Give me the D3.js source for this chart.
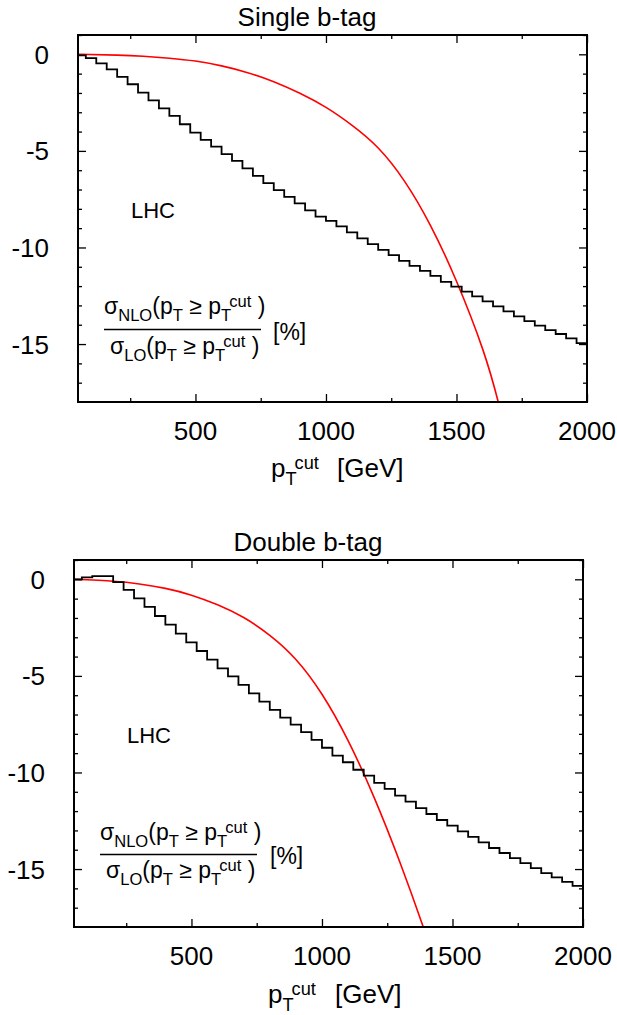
<!DOCTYPE html>
<html>
<head>
<meta charset="utf-8">
<script src="https://cdn.jsdelivr.net/npm/d3@7"></script>
<style>
  html, body { margin: 0; padding: 0; background: #fff; }
  svg { display: block; font-family: "Liberation Sans", Arial, Helvetica, sans-serif; }
</style>
</head>
<body>
<svg id="chart" width="617" height="1015"></svg>
<script>
// ---------------- DATA ----------------
const binEdges = [50, 80, 120, 160, 200, 240, 280, 320, 360, 400, 440, 480, 520, 560, 600, 640, 680, 720, 760, 800,
  840, 880, 920, 960, 1000, 1040, 1080, 1120, 1160, 1200, 1240, 1280, 1320, 1360, 1400, 1440, 1480, 1520, 1560, 1600,
  1640, 1680, 1720, 1760, 1800, 1840, 1880, 1920, 1960, 2000];

const singleStep = [-0.05, -0.2, -0.47, -0.78, -1.17, -1.55, -1.98, -2.38, -2.8, -3.19, -3.62, -4.05, -4.43, -4.78,
  -5.17, -5.52, -5.9, -6.29, -6.67, -7.03, -7.38, -7.72, -8.08, -8.4, -8.62, -8.91, -9.22, -9.53, -9.83, -10.12,
  -10.4, -10.69, -10.95, -11.21, -11.47, -11.78, -12.03, -12.29, -12.53, -12.79, -13.05, -13.31, -13.57, -13.81,
  -14.05, -14.28, -14.48, -14.71, -14.95];

const doubleStep = [0.0, 0.1, 0.17, 0.17, -0.15, -0.55, -0.99, -1.43, -1.9, -2.35, -2.81, -3.26, -3.71, -4.16,
  -4.61, -5.03, -5.47, -5.9, -6.33, -6.76, -7.16, -7.52, -7.91, -8.31, -8.72, -9.13, -9.47, -9.86, -10.16, -10.54,
  -10.85, -11.2, -11.51, -11.85, -12.15, -12.46, -12.75, -13.05, -13.33, -13.62, -13.91, -14.17, -14.43, -14.69,
  -14.95, -15.21, -15.43, -15.66, -15.87];

const singleCurveX = [50, 200, 300, 400, 500, 600, 700, 800, 900, 1000, 1100, 1200, 1300, 1400, 1500, 1600, 1660, 1700];
const singleCurveY = [0, -0.04, -0.1, -0.2, -0.35, -0.6, -0.95, -1.42, -2.02, -2.75, -3.68, -4.85, -6.55, -8.85, -11.75, -15.25, -18.0, -20.2];

const doubleCurveX = [50, 200, 300, 400, 500, 600, 700, 800, 900, 1000, 1100, 1200, 1300, 1388, 1430];
const doubleCurveY = [0, -0.1, -0.24, -0.47, -0.82, -1.32, -1.98, -2.9, -4.15, -5.95, -8.35, -11.3, -14.7, -18.0, -19.7];

const xMajorTicks = [500, 1000, 1500, 2000];
const xMinorTicks = [250, 750, 1250, 1750];
const yMajorTicks = [0, -5, -10, -15];
const yMinorTicks = [1, -1, -2, -3, -4, -6, -7, -8, -9, -11, -12, -13, -14, -16, -17];

const titles = ["Single b-tag", "Double b-tag"];
const annotation = "LHC";

// ---------------- LAYOUT ----------------
const svg = d3.select("#chart");
const panels = [
  { title: titles[0], step: singleStep, cx: singleCurveX, cy: singleCurveY,
    left: 78, right: 587, top: 35, bottom: 402, titleX: 307, titleY: 26,
    lhc: [131, 218], frac: { nx: 104, ny: 314, barY: 329.5, barX1: 104, barX2: 261, dx: 110, dy: 354, px: 273, py: 340 },
    xlab: { px: 271, gx: 337, y: 477 } },
  { title: titles[1], step: doubleStep, cx: doubleCurveX, cy: doubleCurveY,
    left: 74, right: 583, top: 560, bottom: 927, titleX: 308, titleY: 551,
    lhc: [127, 743], frac: { nx: 100, ny: 840, barY: 854.5, barX1: 100, barX2: 257, dx: 106, dy: 878, px: 270, py: 864 },
    xlab: { px: 268, gx: 335, y: 1003 } }
];

function richText(g, x, y, parts, size, scale) {
  const t = g.append("text").attr("x", x).attr("y", y).attr("font-size", size)
    .attr("fill", "#000").style("white-space", "pre");
  let shift = 0;
  parts.forEach(p => {
    const ts = t.append("tspan").text(p.t);
    let target = 0, fs = size;
    if (p.sub) { target = size * 0.32; fs = size * scale; }
    if (p.sup) { target = -size * 0.32; fs = size * scale; }
    ts.attr("dy", target - shift).attr("font-size", fs);
    shift = target;
  });
  return t;
}

panels.forEach((P, idx) => {
  const g = svg.append("g");
  const x = d3.scaleLinear().domain([50, 2000]).range([P.left, P.right]);
  const y = d3.scaleLinear().domain([-18, 1]).range([P.bottom, P.top]);

  const clipId = "clip" + idx;
  svg.append("defs").append("clipPath").attr("id", clipId)
    .append("rect").attr("x", P.left).attr("y", P.top)
    .attr("width", P.right - P.left).attr("height", P.bottom - P.top);

  // Title
  g.append("text").attr("x", P.titleX).attr("y", P.titleY).attr("text-anchor", "middle")
    .attr("font-size", 26).text(P.title);

  // Ticks via d3 axes (inward)
  const axB = d3.axisBottom(x).tickValues(xMajorTicks).tickSize(-8).tickFormat("");
  const axBm = d3.axisBottom(x).tickValues(xMinorTicks).tickSize(-4).tickFormat("");
  const axT = d3.axisTop(x).tickValues(xMajorTicks).tickSize(-8).tickFormat("");
  const axTm = d3.axisTop(x).tickValues(xMinorTicks).tickSize(-4).tickFormat("");
  const axL = d3.axisLeft(y).tickValues(yMajorTicks).tickSize(-8).tickFormat("");
  const axLm = d3.axisLeft(y).tickValues(yMinorTicks).tickSize(-4).tickFormat("");
  const axR = d3.axisRight(y).tickValues(yMajorTicks).tickSize(-8).tickFormat("");
  const axRm = d3.axisRight(y).tickValues(yMinorTicks).tickSize(-4).tickFormat("");
  [[axB, `translate(0,${P.bottom})`], [axBm, `translate(0,${P.bottom})`],
   [axT, `translate(0,${P.top})`], [axTm, `translate(0,${P.top})`],
   [axL, `translate(${P.left},0)`], [axLm, `translate(${P.left},0)`],
   [axR, `translate(${P.right},0)`], [axRm, `translate(${P.right},0)`]].forEach(([ax, tr]) => {
    const a = g.append("g").attr("transform", tr).call(ax);
    a.select(".domain").remove();
    a.selectAll("line").attr("stroke", "#000").attr("stroke-width", 1.3);
  });

  // Tick labels
  xMajorTicks.forEach(v => {
    g.append("text").attr("x", x(v)).attr("y", P.bottom + 38).attr("text-anchor", "middle")
      .attr("font-size", 26).text(v);
  });
  yMajorTicks.forEach(v => {
    g.append("text").attr("x", P.left - 29).attr("y", y(v) + 9.5).attr("text-anchor", "end")
      .attr("font-size", 26).text(v);
  });

  // Red curve
  const curvePts = P.cx.map((v, i) => [v, P.cy[i]]);
  g.append("path").datum(curvePts)
    .attr("clip-path", `url(#${clipId})`)
    .attr("fill", "none").attr("stroke", "#ff0000").attr("stroke-width", 1.6)
    .attr("d", d3.line().x(d => x(d[0])).y(d => y(d[1])).curve(d3.curveNatural));

  // Black step histogram
  const stepPts = binEdges.map((e, i) => [e, i < P.step.length ? P.step[i] : P.step[P.step.length - 1]]);
  g.append("path").datum(stepPts)
    .attr("clip-path", `url(#${clipId})`)
    .attr("fill", "none").attr("stroke", "#000").attr("stroke-width", 1.8)
    .attr("d", d3.line().x(d => x(d[0])).y(d => y(d[1])).curve(d3.curveStepAfter));

  // Frame
  g.append("rect").attr("x", P.left).attr("y", P.top)
    .attr("width", P.right - P.left).attr("height", P.bottom - P.top)
    .attr("fill", "none").attr("stroke", "#000").attr("stroke-width", 2);

  // LHC
  g.append("text").attr("x", P.lhc[0]).attr("y", P.lhc[1]).attr("font-size", 22).text(annotation);

  // Fraction label
  const F = P.frac;
  richText(g, F.nx, F.ny, [{t: "σ"}, {t: "NLO", sub: true}, {t: "(p"}, {t: "T", sub: true}, {t: " ≥ p"},
    {t: "T", sub: true}, {t: "cut", sup: true}, {t: " )"}], 23, 0.72);
  g.append("line").attr("x1", F.barX1).attr("x2", F.barX2).attr("y1", F.barY).attr("y2", F.barY)
    .attr("stroke", "#000").attr("stroke-width", 1.6);
  richText(g, F.dx, F.dy, [{t: "σ"}, {t: "LO", sub: true}, {t: "(p"}, {t: "T", sub: true}, {t: " ≥ p"},
    {t: "T", sub: true}, {t: "cut", sup: true}, {t: " )"}], 23, 0.72);
  g.append("text").attr("x", F.px).attr("y", F.py).attr("font-size", 23).text("[%]");

  // X axis label
  richText(g, P.xlab.px, P.xlab.y, [{t: "p"}, {t: "T", sub: true}, {t: "cut", sup: true}], 26, 0.7);
  g.append("text").attr("x", P.xlab.gx).attr("y", P.xlab.y).attr("font-size", 26).text("[GeV]");
});
</script>
</body>
</html>
